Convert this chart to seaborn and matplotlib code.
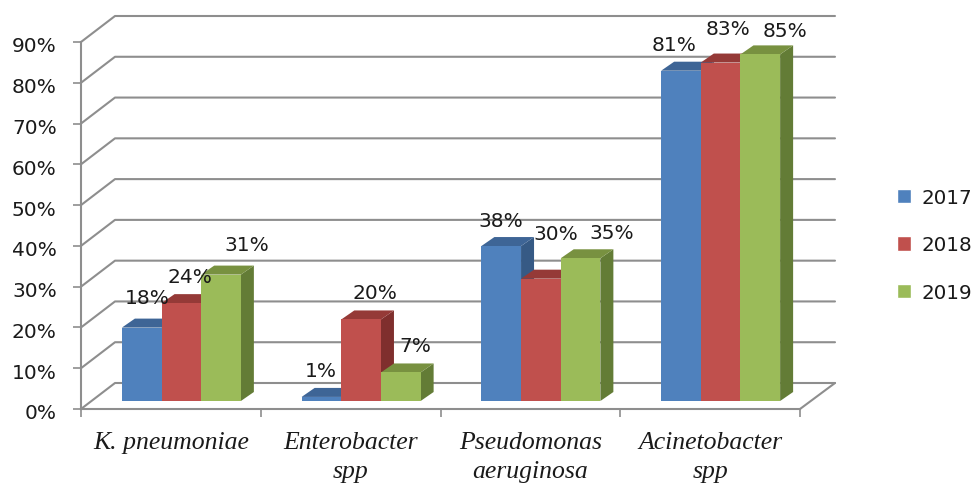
import matplotlib
matplotlib.use("Agg")
import matplotlib.pyplot as plt
from matplotlib.patches import Polygon
from matplotlib.transforms import Affine2D
import pandas as pd
import seaborn as sns

organisms = ["K. pneumoniae", "Enterobacter\nspp", "Pseudomonas\naeruginosa", "Acinetobacter\nspp"]
years = ["2017", "2018", "2019"]
pct_2017 = [18, 1, 38, 81]
pct_2018 = [24, 20, 30, 83]
pct_2019 = [31, 7, 35, 85]
y_ticks = [0, 10, 20, 30, 40, 50, 60, 70, 80, 90]

front_cols = ["#4F81BD", "#C0504D", "#9BBB59"]
top_cols = ["#3E6596", "#953A37", "#789140"]
side_cols = ["#365A85", "#7F2F2D", "#637C36"]
grid_col = "#8E8E8E"

# label offsets from the top of each bar, in pixels
label_shift = [
    [(16, -38), (10, -34), (10, -34), (4, -34)],
    [(19, -35), (24, -35), (25, -53), (18, -42)],
    [(36, -38), (25, -35), (42, -34), (35, -32)],
]

W, H = 976, 485
sns.set_theme(style="white")
plt.rcParams["font.family"] = ["DejaVu Sans"]
fig = plt.figure(figsize=(W / 100, H / 100), dpi=100)
ax = fig.add_axes([81 / W, (H - 410) / H, 719 / W, 367 / H])

df = pd.DataFrame({
    "organism": organisms * 3,
    "year": sum([[y] * 4 for y in years], []),
    "pct": pct_2017 + pct_2018 + pct_2019,
})
sns.barplot(data=df, x="organism", y="pct", hue="year", palette=front_cols,
            saturation=1, width=0.662, gap=0, ax=ax)
ax.set_xlim(-0.5, 3.5)
ax.set_ylim(0, 90)

# pixels to data units
ux = 4 / 719
uy = 90 / 367

# side walls and floor
for v in y_ticks:
    ax.plot([-0.5, -0.5 + 34 * ux, 3.5 + 35 * ux],
            [v, v + 26 * uy, v + 26 * uy],
            color=grid_col, lw=1.5, clip_on=False, zorder=1)
ax.plot([3.5, 3.5 + 35 * ux], [0, 26 * uy], color=grid_col, lw=1.5, clip_on=False, zorder=1)

# bars sit a bit behind the front plane, give them depth
shift = ax.transData + Affine2D().translate(10.5, 8)
dx = 13 * ux
dy = 9 * uy
for i, cont in enumerate(ax.containers):
    for j, bar in enumerate(cont.patches):
        x0 = bar.get_x()
        x1 = x0 + bar.get_width()
        v = bar.get_height()
        bar.set_transform(shift)
        bar.set_clip_on(False)
        bar.set_linewidth(0)
        bar.set_zorder(3 + i + 0.5)
        side = Polygon([(x1, 0), (x1, v), (x1 + dx, v + dy), (x1 + dx, dy)],
                       facecolor=side_cols[i], edgecolor="none", transform=shift,
                       clip_on=False, zorder=3 + i)
        top = Polygon([(x0, v), (x1, v), (x1 + dx, v + dy), (x0 + dx, v + dy)],
                      facecolor=top_cols[i], edgecolor="none", transform=shift,
                      clip_on=False, zorder=3 + i)
        ax.add_patch(side)
        ax.add_patch(top)
        ax.annotate(f"{v:.0f}%", xy=((x0 + x1) / 2, v), xycoords="data",
                    xytext=(label_shift[i][j][0], -label_shift[i][j][1]),
                    textcoords="offset pixels", ha="center", va="center",
                    fontsize=14.5, color="#1A1A1A", annotation_clip=False, zorder=10)

# axes
sns.despine(ax=ax)
for s in ["left", "bottom"]:
    ax.spines[s].set_color(grid_col)
    ax.spines[s].set_linewidth(1.5)
ax.set_xlabel("")
ax.set_ylabel("")
ax.set_yticks(y_ticks)
ax.set_yticklabels([f"{v}%" for v in y_ticks], fontsize=14.5, color="#1A1A1A")
ax.tick_params(axis="y", left=True, length=5.5, width=1.2, color=grid_col, pad=12)
for lab in ax.get_yticklabels():
    lab.set_transform(lab.get_transform() + Affine2D().translate(0, -2))
ax.set_xticks([-0.5, 0.5, 1.5, 2.5, 3.5], minor=True)
ax.tick_params(axis="x", which="minor", bottom=True, length=5.5, width=1.2, color=grid_col)
ax.set_xticks(range(4))
ax.set_xticklabels(organisms, fontsize=18.5, fontfamily="Liberation Serif", fontstyle="italic",
                   color="#1A1A1A", linespacing=1.42)
ax.tick_params(axis="x", which="major", bottom=False, pad=10)

# legend
handles, labels = ax.get_legend_handles_labels()
ax.legend(handles, labels, loc="center left", bbox_to_anchor=(887 / W, (H - 246) / H),
          bbox_transform=fig.transFigure, frameon=False, fontsize=14.3, handlelength=0.72,
          handleheight=0.72, handletextpad=0.5, labelspacing=1.45, borderpad=0,
          labelcolor="#1A1A1A")

fig.savefig("out.png", dpi=100, facecolor="white")
